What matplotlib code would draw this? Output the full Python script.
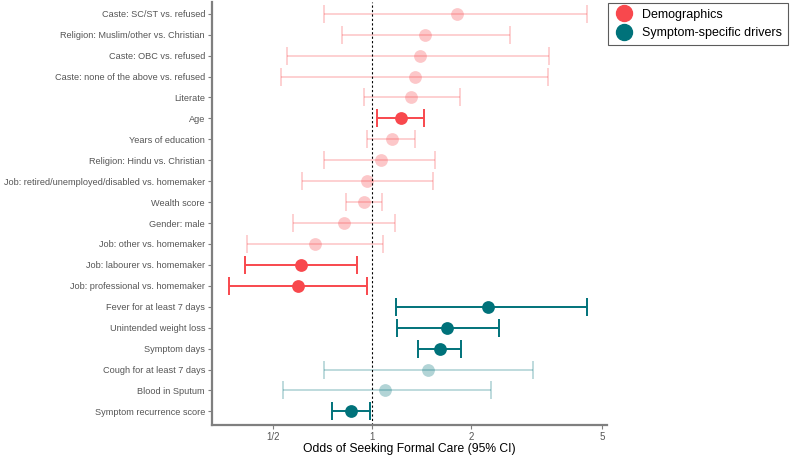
import matplotlib
matplotlib.use("Agg")
import matplotlib.pyplot as plt
from matplotlib.lines import Line2D
import numpy as np

plt.rcParams['font.family'] = ['Liberation Sans', 'DejaVu Sans']

labels = [
    "Caste: SC/ST vs. refused",
    "Religion: Muslim/other vs. Christian",
    "Caste: OBC vs. refused",
    "Caste: none of the above vs. refused",
    "Literate",
    "Age",
    "Years of education",
    "Religion: Hindu vs. Christian",
    "Job: retired/unemployed/disabled vs. homemaker",
    "Wealth score",
    "Gender: male",
    "Job: other vs. homemaker",
    "Job: labourer vs. homemaker",
    "Job: professional vs. homemaker",
    "Fever for at least 7 days",
    "Unintended weight loss",
    "Symptom days",
    "Cough for at least 7 days",
    "Blood in Sputum",
    "Symptom recurrence score",
]
odds = [1.81, 1.45, 1.40, 1.35, 1.31, 1.22, 1.15, 1.06, 0.965, 0.945,
        0.82, 0.67, 0.608, 0.596, 2.25, 1.69, 1.61, 1.48, 1.09, 0.863]
ci_low = [0.715, 0.81, 0.55, 0.53, 0.945, 1.035, 0.965, 0.715, 0.61, 0.83,
          0.575, 0.417, 0.41, 0.367, 1.18, 1.19, 1.38, 0.715, 0.537, 0.756]
ci_high = [4.5, 2.63, 3.45, 3.43, 1.85, 1.44, 1.35, 1.55, 1.53, 1.07,
           1.17, 1.08, 0.90, 0.965, 4.48, 2.43, 1.86, 3.09, 2.30, 0.986]
group = ["Demographics"] * 14 + ["Symptom-specific drivers"] * 6
significant = [False, False, False, False, False, True, False, False, False, False,
               False, False, True, True, True, True, True, False, False, True]

colors = {"Demographics": "#F8484D", "Symptom-specific drivers": "#00727A"}

fig = plt.figure(figsize=(7.94, 4.58), dpi=100)
ax = fig.add_axes([0.267, 0.072, 0.4978, 0.924])

for i, lab in enumerate(labels):
    c = colors[group[i]]
    a = 1.0 if significant[i] else 0.3
    lw = 1.4 if significant[i] else 1.2
    ax.errorbar(odds[i], i, xerr=[[odds[i] - ci_low[i]], [ci_high[i] - odds[i]]],
                fmt='none', ecolor=c, alpha=a, elinewidth=lw, capsize=6.3, capthick=lw)
    ax.plot(odds[i], i, 'o', color=c, alpha=a, markersize=9.2, markeredgewidth=0)

ax.axvline(1, color='black', linestyle=(0, (2, 2)), lw=0.8)

ax.set_xscale('log')
ax.set_xlim(0.326, 5.18)
ax.set_xticks([0.5, 1, 2, 5])
ax.set_xticklabels(["1/2", "1", "2", "5"])
ax.minorticks_off()
ax.set_ylim(19.65, -0.57)
ax.set_yticks(range(len(labels)))
ax.set_yticklabels(labels)

for s in ['top', 'right']:
    ax.spines[s].set_visible(False)
for s in ['left', 'bottom']:
    ax.spines[s].set_color('#7f7f7f')
    ax.spines[s].set_linewidth(1.6)
ax.tick_params(axis='both', colors='#7f7f7f', length=3, width=0.8, labelsize=6.6,
               labelcolor='#555555', pad=2)
ax.tick_params(axis='x', labelsize=7)
ax.set_xlabel("Odds of Seeking Formal Care (95% CI)", fontsize=8.7, color='black', labelpad=1)

handles = [Line2D([], [], marker='o', linestyle='none', color=colors[g], markersize=11.5)
           for g in ["Demographics", "Symptom-specific drivers"]]
leg = fig.legend(handles, ["Demographics", "Symptom-specific drivers"],
                 loc='upper left', bbox_to_anchor=(0.764, 0.997), frameon=True,
                 fancybox=False, edgecolor='#333333', fontsize=9.0,
                 handletextpad=0.6, borderpad=0.5, labelspacing=0.5, handlelength=1.6,
                 borderaxespad=0.1)
leg.get_frame().set_linewidth(0.8)

fig.savefig("out.png", dpi=100)
